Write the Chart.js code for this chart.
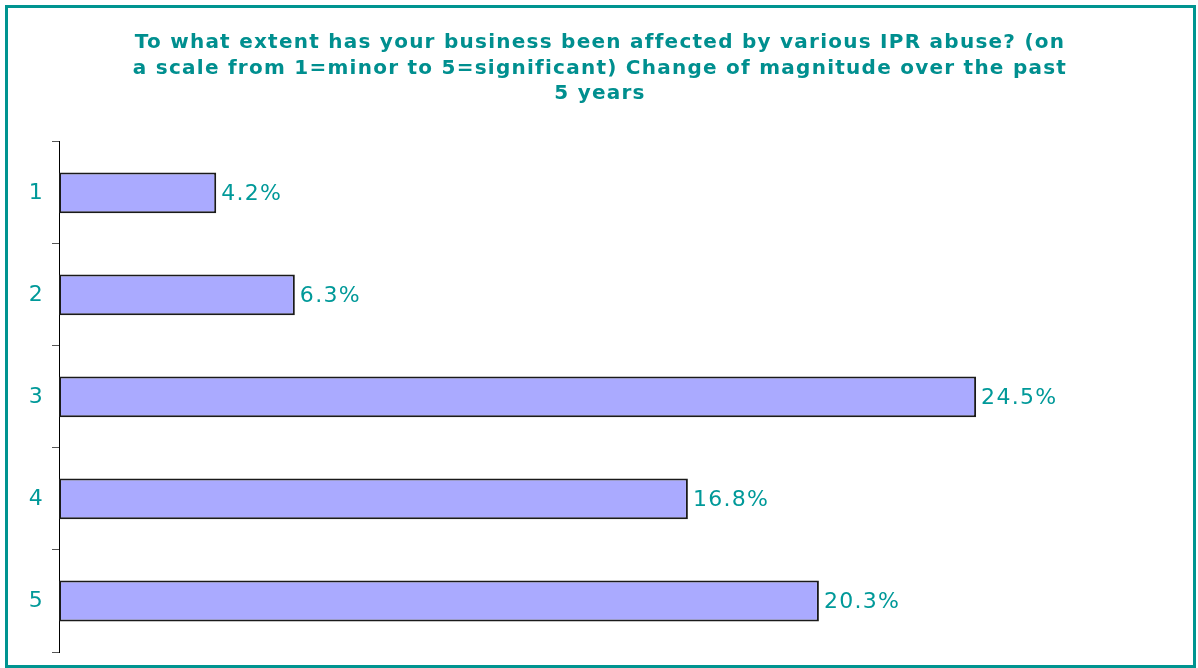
<!DOCTYPE html>
<html>
<head>
<meta charset="utf-8">
<script src="https://cdn.jsdelivr.net/npm/chart.js@4/dist/chart.umd.min.js"></script>
<style>
html,body{margin:0;padding:0;background:#fff;}
#wrap{position:absolute;left:0;top:0;width:1198px;height:668px;}
</style>
</head>
<body>
<div id="wrap"><canvas id="c" width="1198" height="668"></canvas></div>
<script>
const categories = ["1", "2", "3", "4", "5"];
const values = [4.2, 6.3, 24.5, 16.8, 20.3];
const valueLabels = ["4.2%", "6.3%", "24.5%", "16.8%", "20.3%"];
const titleLines = [
  "To what extent has your business been affected by various IPR abuse? (on",
  "a scale from 1=minor to 5=significant) Change of magnitude over the past",
  "5 years"
];

const TEAL = "#009999";
const TITLE_TEAL = "#008f8f";
const FONT = "'DejaVu Sans', Verdana, sans-serif";

const framePlugin = {
  id: 'frame',
  beforeDraw(chart) {
    const ctx = chart.ctx;
    ctx.save();
    ctx.fillStyle = '#ffffff';
    ctx.fillRect(0, 0, chart.width, chart.height);
    ctx.strokeStyle = '#009490';
    ctx.lineWidth = 3;
    ctx.strokeRect(6.5, 6.5, 1188, 660);
    ctx.restore();
    ctx.letterSpacing = '1.25px';
  }
};

const valueLabelPlugin = {
  id: 'valueLabels',
  afterDatasetsDraw(chart) {
    const ctx = chart.ctx;
    const meta = chart.getDatasetMeta(0);
    ctx.save();
    ctx.letterSpacing = '1.3px';
    ctx.font = "22px " + FONT;
    ctx.fillStyle = TEAL;
    ctx.textAlign = 'left';
    ctx.textBaseline = 'middle';
    meta.data.forEach((bar, i) => {
      ctx.fillText(valueLabels[i], bar.x + 5, bar.y + 1);
    });
    ctx.restore();
  }
};

new Chart(document.getElementById('c'), {
  type: 'bar',
  data: {
    labels: categories,
    datasets: [{
      data: values,
      backgroundColor: '#aaaaff',
      borderColor: '#1a1a1a',
      borderWidth: 2,
      borderSkipped: false,
      categoryPercentage: 0.4,
      barPercentage: 1.0
    }]
  },
  options: {
    indexAxis: 'y',
    responsive: false,
    animation: false,
    events: [],
    layout: { padding: { top: 30, bottom: 16, right: 16, left: 18 } },
    plugins: {
      legend: { display: false },
      tooltip: { enabled: false },
      title: {
        display: true,
        text: titleLines,
        color: TITLE_TEAL,
        font: { family: FONT, size: 20, weight: 'bold', lineHeight: 1.28 },
        padding: { top: 0, bottom: 35 }
      }
    },
    scales: {
      x: {
        display: false,
        min: 0,
        max: 30
      },
      y: {
        afterFit(scale) {
          scale.width = 41;
          scale.paddingTop = 0;
          scale.paddingBottom = 0;
        },
        grid: {
          offset: true,
          drawOnChartArea: false,
          drawTicks: true,
          tickLength: 7,
          color: '#555555',
          lineWidth: 1
        },
        border: { display: true, color: '#000000', width: 1 },
        ticks: {
          color: TEAL,
          font: { family: FONT, size: 22 },
          padding: 8
        }
      }
    }
  },
  plugins: [framePlugin, valueLabelPlugin]
});
</script>
</body>
</html>
